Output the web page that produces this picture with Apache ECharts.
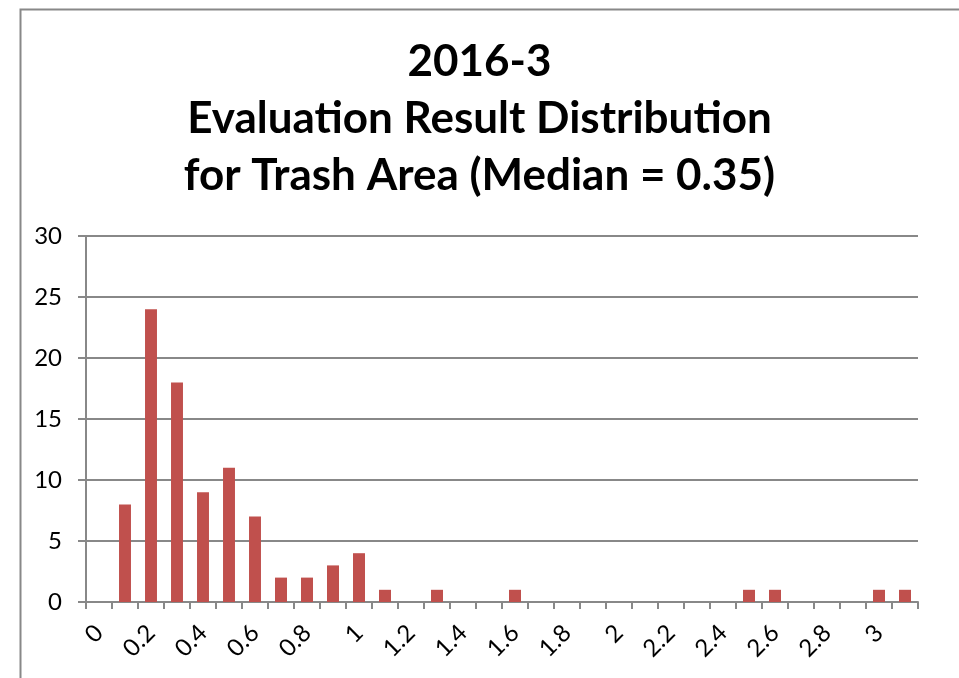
<!DOCTYPE html>
<html>
<head>
<meta charset="utf-8">
<script src="https://cdn.jsdelivr.net/npm/echarts@6/dist/echarts.min.js"></script>
<style>
html,body{margin:0;padding:0;background:#fff;}
#chart{width:959px;height:678px;}
</style>
</head>
<body>
<div id="chart"></div>
<script>
var categories = ['0','0.1','0.2','0.3','0.4','0.5','0.6','0.7','0.8','0.9','1','1.1','1.2','1.3','1.4','1.5','1.6','1.7','1.8','1.9','2','2.1','2.2','2.3','2.4','2.5','2.6','2.7','2.8','2.9','3','3.1'];
var counts = [0,8,24,18,9,11,7,2,2,3,4,1,0,1,0,0,1,0,0,0,0,0,0,0,0,1,1,0,0,0,1,1];
var yTicks = [0,5,10,15,20,25,30];
var titleText = '2016-3\nEvaluation Result Distribution\nfor Trash Area (Median = 0.35)';

var chart = echarts.init(document.getElementById('chart'), null, {renderer:'canvas'});
var font = 'Lato, "Open Sans", sans-serif';
chart.setOption({
  animation:false,
  backgroundColor:'#fff',
  graphic:[{
    type:'rect', left:18, top:7, shape:{width:940, height:720},
    style:{fill:'none', stroke:'#888', lineWidth:2}, silent:true, z:-1
  }],
  title:{
    text:titleText, left:'center', top:28,
    textStyle:{fontFamily:font, fontWeight:'bold', fontSize:44, lineHeight:57, color:'#000'}
  },
  grid:{left:86, right:41, top:236, bottom:76, containLabel:false},
  xAxis:{
    type:'category', data:categories, boundaryGap:true,
    axisLine:{lineStyle:{color:'#888', width:2}},
    axisTick:{show:true, interval:0, length:7, lineStyle:{color:'#888', width:2}},
    axisLabel:{interval:1, rotate:45, margin:27, fontFamily:font, fontSize:24, color:'#000'},
    splitLine:{show:false}
  },
  yAxis:{
    type:'value', min:yTicks[0], max:yTicks[yTicks.length-1], interval:5,
    axisLine:{show:true, lineStyle:{color:'#888', width:2}},
    axisTick:{show:true, length:8, lineStyle:{color:'#888', width:2}},
    axisLabel:{margin:24, fontFamily:font, fontSize:24, color:'#000'},
    splitLine:{show:true, lineStyle:{color:'#888', width:2}}
  },
  series:[{
    type:'bar', data:counts, barWidth:'46%',
    itemStyle:{color:'#C0504D'}
  }]
});
</script>
</body>
</html>
